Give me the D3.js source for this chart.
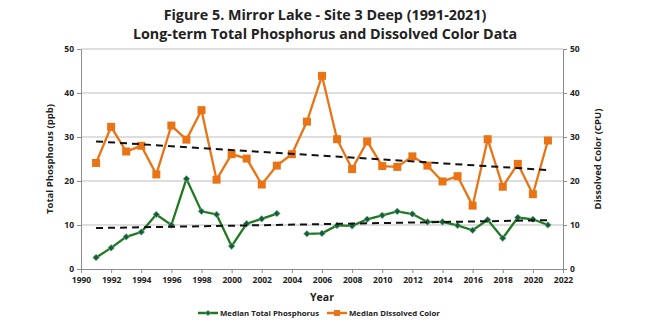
<!DOCTYPE html>
<html lang="en">
<head>
<meta charset="UTF-8" />
<title>Mirror Lake</title>
<script src="https://cdnjs.cloudflare.com/ajax/libs/d3/7.8.5/d3.min.js"></script>
<style>
  body { margin: 0; background: #fff; }
  text { font-family: "Open Sans", sans-serif; fill: #222; }
</style>
</head>
<body>
<div id="chart"></div>
<script>
// values
const years = d3.range(1991, 2022);
const phosphorus = [2.6, 4.8, 7.3, 8.4, 12.4, 10.0, 20.5, 13.1, 12.4, 5.2,
  10.3, 11.4, 12.6, null, 8.0, 8.1, 9.9, 9.8, 11.3, 12.2,
  13.1, 12.5, 10.7, 10.7, 9.9, 8.8, 11.2, 7.0, 11.7, 11.3, 10.0];
const color = [24.1, 32.3, 26.7, 28.0, 21.5, 32.6, 29.4, 36.1, 20.3, 26.1,
  25.1, 19.2, 23.5, 26.1, 33.5, 43.9, 29.5, 22.7, 29.0, 23.4,
  23.2, 25.6, 23.5, 19.9, 21.1, 14.4, 29.5, 18.7, 23.9, 17.0, 29.2];
const trendYears = [1991, 2021];
const phosphorusTrend = [9.3, 11.1];
const colorTrend = [29.0, 22.5];
const xTicks = d3.range(1990, 2023, 2);
const yTicks = [0, 10, 20, 30, 40, 50];

const width = 650, height = 325;
const m = { left: 81, right: 87, top: 49, bottom: 56 };
const green = "#1f7a1f", orange = "#ea7415";

const svg = d3.select("#chart").append("svg")
  .attr("width", width).attr("height", height);

const x = d3.scaleLinear().domain([1990, 2022]).range([m.left, width - m.right]);
const y = d3.scaleLinear().domain([0, 50]).range([height - m.bottom, m.top]);

// gridlines
svg.append("g").selectAll("line").data(yTicks.slice(1)).join("line")
  .attr("x1", m.left).attr("x2", width - m.right)
  .attr("y1", d => y(d)).attr("y2", d => y(d))
  .attr("stroke", "#bdbdbd").attr("stroke-width", 1);

// axes
const axisStyle = g => {
  g.select(".domain").attr("stroke", "#8c8c8c");
  g.selectAll(".tick line").attr("stroke", "#8c8c8c");
  g.selectAll("text").style("font-size", "8.5px").style("font-weight", "bold")
    .style("font-family", "Open Sans").attr("fill", "#222");
};
svg.append("g").attr("transform", `translate(0,${y(0)})`)
  .call(d3.axisBottom(x).tickValues(xTicks).tickFormat(d3.format("d")).tickSize(4).tickPadding(4))
  .call(axisStyle);
svg.append("g").attr("transform", `translate(${m.left},0)`)
  .call(d3.axisLeft(y).tickValues(yTicks).tickSize(4).tickSizeOuter(0).tickPadding(3))
  .call(axisStyle);
svg.append("g").attr("transform", `translate(${width - m.right},0)`)
  .call(d3.axisRight(y).tickValues(yTicks).tickSize(4).tickSizeOuter(0).tickPadding(3))
  .call(axisStyle);

// series
const line = d3.line().defined(d => d[1] != null).x(d => x(d[0])).y(d => y(d[1]));
const colorPts = years.map((yr, i) => [yr, color[i]]);
const tpPts = years.map((yr, i) => [yr, phosphorus[i]]);

svg.append("path").datum(colorPts).attr("d", line)
  .attr("fill", "none").attr("stroke", orange).attr("stroke-width", 2.3);
svg.append("g").selectAll("rect").data(colorPts).join("rect")
  .attr("x", d => x(d[0]) - 4).attr("y", d => y(d[1]) - 4)
  .attr("width", 8).attr("height", 8).attr("fill", orange);

svg.append("path").datum(tpPts).attr("d", line)
  .attr("fill", "none").attr("stroke", green).attr("stroke-width", 2.3);
const diamond = d3.symbol().type(d3.symbolDiamond2).size(28);
svg.append("g").selectAll("path").data(tpPts.filter(d => d[1] != null)).join("path")
  .attr("transform", d => `translate(${x(d[0])},${y(d[1])})`)
  .attr("d", diamond).attr("fill", "#17602a").attr("stroke", "#7fb0c8").attr("stroke-width", 0.7);

// trend lines
[colorTrend, phosphorusTrend].forEach(t => {
  svg.append("path").datum(trendYears.map((yr, i) => [yr, t[i]])).attr("d", line)
    .attr("fill", "none").attr("stroke", "#111").attr("stroke-width", 2)
    .attr("stroke-dasharray", "7,5");
});

// titles
svg.append("text").attr("x", 325).attr("y", 20).attr("text-anchor", "middle")
  .style("font-size", "14.3px").style("font-weight", "bold")
  .text("Figure 5. Mirror Lake - Site 3 Deep (1991-2021)");
svg.append("text").attr("x", 325).attr("y", 39).attr("text-anchor", "middle")
  .style("font-size", "14.3px").style("font-weight", "bold")
  .text("Long-term Total Phosphorus and Dissolved Color Data");

svg.append("text").attr("x", 322).attr("y", 301).attr("text-anchor", "middle")
  .style("font-size", "10.5px").style("font-weight", "bold").text("Year");
svg.append("text").attr("transform", `translate(53,${y(25)}) rotate(-90)`)
  .attr("text-anchor", "middle").style("font-size", "9.5px").style("font-weight", "bold")
  .text("Total Phosphorus (ppb)");
svg.append("text").attr("transform", `translate(601,${y(25)}) rotate(-90)`)
  .attr("text-anchor", "middle").style("font-size", "9.5px").style("font-weight", "bold")
  .text("Dissolved Color (CPU)");

// legend
const legend = [
  { label: "Median Total Phosphorus", c: green, x0: 198, mark: "diamond" },
  { label: "Median Dissolved Color", c: orange, x0: 327, mark: "square" }
];
const lg = svg.append("g").selectAll("g").data(legend).join("g")
  .attr("transform", d => `translate(${d.x0},313)`);
lg.append("line").attr("x1", 0).attr("x2", 20).attr("stroke", d => d.c).attr("stroke-width", 2.5);
lg.filter(d => d.mark === "square").append("rect")
  .attr("x", 7).attr("y", -3).attr("width", 6).attr("height", 6).attr("fill", orange);
lg.filter(d => d.mark === "diamond").append("path")
  .attr("transform", "translate(10,0)").attr("d", d3.symbol().type(d3.symbolDiamond2).size(18))
  .attr("fill", "#17602a").attr("stroke", "#7fb0c8").attr("stroke-width", 0.6);
lg.append("text").attr("x", 22).attr("y", 3)
  .style("font-size", "7.8px").style("font-weight", "bold").text(d => d.label);
</script>
</body>
</html>
